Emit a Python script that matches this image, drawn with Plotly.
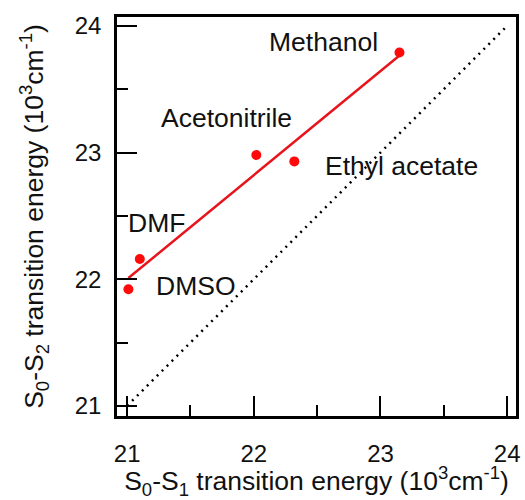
import numpy as np
import plotly.graph_objects as go

# Data (10^3 cm^-1)
solvents = ["Methanol", "Acetonitrile", "Ethyl acetate", "DMF", "DMSO"]
s0_s1 = [23.15, 22.02, 22.32, 21.10, 21.01]
s0_s2 = [23.79, 22.98, 22.93, 22.16, 21.92]
diag = [21.0, 24.0]
x_ticks = [21, 22, 23, 24]
y_ticks = [21, 22, 23, 24]

# Label anchor positions (layout)
label_x = [22.55, 21.785, 23.164, 21.23, 21.543]
label_y = [23.875, 23.27, 22.89, 22.44, 21.945]

FONT = "Liberation Sans, Arial, sans-serif"

slope, intercept = np.polyfit(s0_s1, s0_s2, 1)
fit_x = [min(s0_s1), max(s0_s1)]
fit_y = [slope * v + intercept for v in fit_x]

fig = go.Figure()
fig.add_trace(go.Scatter(x=diag, y=diag, mode="lines",
                         line=dict(color="black", width=2.5, dash="2px,5px"),
                         hoverinfo="skip", showlegend=False))
fig.add_trace(go.Scatter(x=fit_x, y=fit_y, mode="lines",
                         line=dict(color="#e8141c", width=2.5),
                         showlegend=False))
fig.add_trace(go.Scatter(x=s0_s1, y=s0_s2, mode="markers", text=solvents,
                         marker=dict(color="#ff0a0a", size=10),
                         showlegend=False))

for name, lx, ly in zip(solvents, label_x, label_y):
    fig.add_annotation(x=lx, y=ly, xref="x", yref="y", text=name,
                       showarrow=False, xanchor="center", yanchor="middle",
                       font=dict(family=FONT, size=26.5, color="#111"))

axis_common = dict(
    showline=True, linecolor="black", linewidth=2.5, mirror=True,
    ticks="inside", ticklen=20, tickwidth=2, tickcolor="black",
    showgrid=False, zeroline=False,
    tickfont=dict(family=FONT, size=24, color="#111"),
    minor=dict(ticks="inside", ticklen=11, tickwidth=2, tickcolor="black",
               dtick=0.5, showgrid=False),
)

fig.update_layout(
    width=525, height=500,
    margin=dict(l=117, r=5, t=17, b=80),
    paper_bgcolor="white", plot_bgcolor="white",
    font=dict(family=FONT, color="#111"),
    xaxis=dict(range=[20.92, 24.07], tickvals=x_ticks,
               ticklabelstandoff=14,
               title=dict(text="S<sub>0</sub>-S<sub>1</sub> transition energy (10<sup>3</sup>cm<sup>-1</sup>)",
                          font=dict(family=FONT, size=26.5, color="#111"),
                          standoff=10),
               **axis_common),
    yaxis=dict(range=[20.92, 24.07], tickvals=y_ticks,
               ticklabelstandoff=8,
               title=dict(text="S<sub>0</sub>-S<sub>2</sub> transition energy (10<sup>3</sup>cm<sup>-1</sup>)",
                          font=dict(family=FONT, size=26.5, color="#111"),
                          standoff=24),
               **axis_common),
)

fig.write_html("out.html", config={"displayModeBar": False},
               post_script="document.body.style.margin='0';document.body.style.overflow='hidden';")
